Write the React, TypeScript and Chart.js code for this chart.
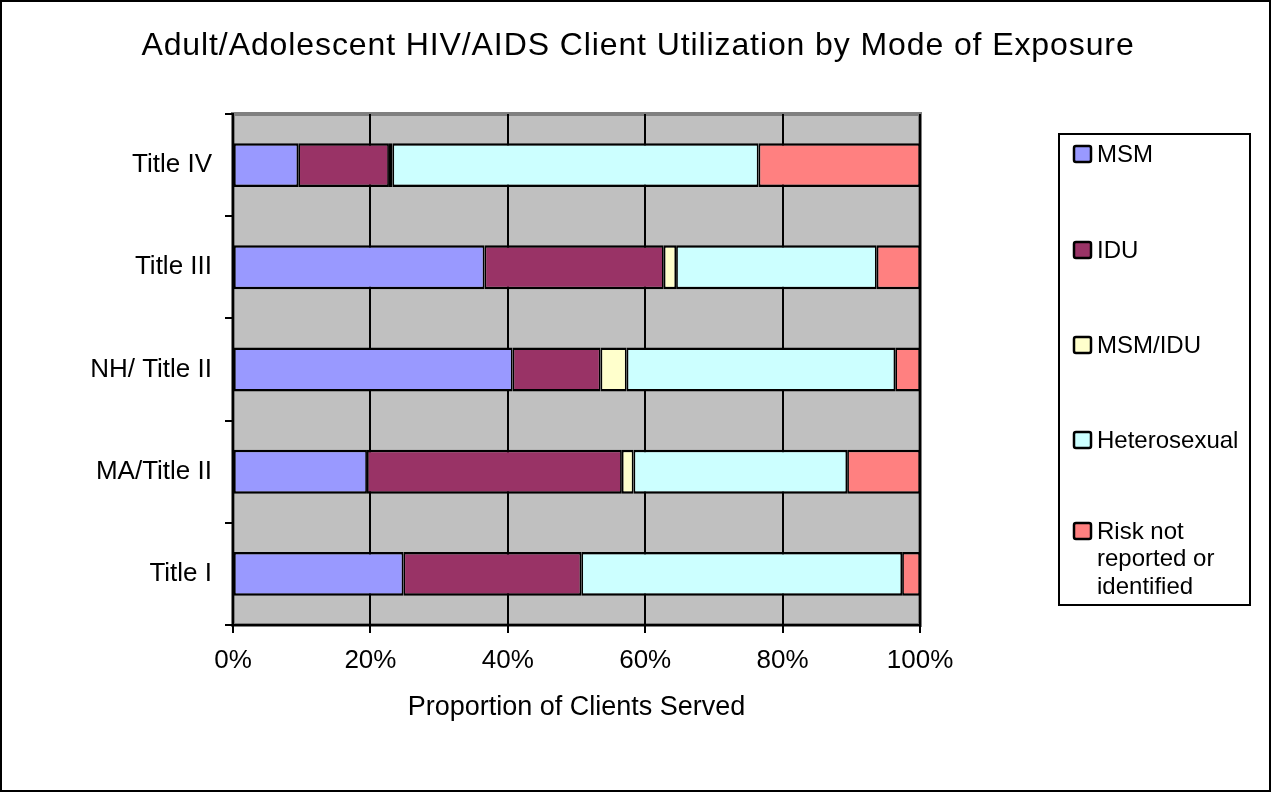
import React, { useEffect, useRef } from "react";
import { Chart, registerables } from "chart.js";

Chart.register(...registerables);

const categories = ["Title IV", "Title III", "NH/ Title II", "MA/Title II", "Title I"];
const msm = [9.5, 36.6, 40.7, 19.5, 24.8];
const idu = [13.2, 26.1, 12.8, 37.1, 25.9];
const msmIdu = [0.5, 1.8, 3.8, 1.7, 0];
const hetero = [53.3, 29.2, 39.1, 31.1, 46.7];
const risk = [23.5, 6.3, 3.6, 10.6, 2.6];
const xTicks = [0, 20, 40, 60, 80, 100];

const seriesNames = ["MSM", "IDU", "MSM/IDU", "Heterosexual", "Risk not reported or identified"];
const seriesColors = ["#9999FF", "#993366", "#FFFFCC", "#CCFFFF", "#FF8080"];
const legendLines = [["MSM"], ["IDU"], ["MSM/IDU"], ["Heterosexual"], ["Risk not", "reported or", "identified"]];

const FONT = "'Liberation Sans', Arial, sans-serif";

const decor = {
  id: "decor",
  beforeDraw(chart: any) {
    const { ctx, chartArea: a } = chart;
    ctx.save();
    ctx.fillStyle = "#ffffff";
    ctx.fillRect(0, 0, chart.width, chart.height);
    ctx.fillStyle = "#C0C0C0";
    ctx.fillRect(a.left, a.top, a.right - a.left, a.bottom - a.top);
    ctx.strokeStyle = "#808080";
    ctx.lineWidth = 4;
    ctx.strokeRect(a.left, a.top, a.right - a.left, a.bottom - a.top);
    ctx.restore();
  },
  afterDraw(chart: any) {
    const { ctx } = chart;
    ctx.save();
    // frame
    ctx.strokeStyle = "#000";
    ctx.lineWidth = 2;
    ctx.strokeRect(1, 1, chart.width - 2, chart.height - 2);
    // title
    ctx.fillStyle = "#000";
    ctx.font = `32px ${FONT}`;
    (ctx as any).letterSpacing = "0.9px";
    ctx.textAlign = "center";
    ctx.textBaseline = "middle";
    ctx.fillText("Adult/Adolescent HIV/AIDS Client Utilization by Mode of Exposure", 638, 46);
    (ctx as any).letterSpacing = "0px";
    // legend
    ctx.fillStyle = "#fff";
    ctx.fillRect(1059, 134, 191, 471);
    ctx.strokeStyle = "#000";
    ctx.lineWidth = 2;
    ctx.strokeRect(1059, 134, 191, 471);
    const ys = [154, 250, 345, 440, 531];
    ctx.font = `24px ${FONT}`;
    ctx.textAlign = "left";
    ctx.textBaseline = "middle";
    legendLines.forEach((lines, i) => {
      const y = ys[i];
      ctx.fillStyle = seriesColors[i];
      ctx.beginPath();
      (ctx as any).roundRect(1074, y - 8, 17, 16, 2);
      ctx.fill();
      ctx.strokeStyle = "#000";
      ctx.lineWidth = 2.5;
      ctx.stroke();
      ctx.fillStyle = "#000";
      lines.forEach((t, j) => ctx.fillText(t, 1097, y + 1 + j * 27.5));
    });
    ctx.restore();
  },
};

export default function App() {
  const ref = useRef<HTMLCanvasElement>(null);
  useEffect(() => {
    document.body.style.margin = "0";
    const values = [msm, idu, msmIdu, hetero, risk];
    const chart = new Chart(ref.current!, {
      type: "bar",
      data: {
        labels: categories,
        datasets: seriesNames.map((name, i) => ({
          label: name,
          data: values[i],
          backgroundColor: seriesColors[i],
          borderColor: "#000",
          borderWidth: { top: 2.5, bottom: 2.5, left: 1.75, right: 1.75 },
          borderSkipped: false,
          barPercentage: 0.43,
          categoryPercentage: 1,
        })),
      },
      options: {
        indexAxis: "y",
        responsive: false,
        animation: false,
        layout: { padding: { left: 0, top: 114, right: 351, bottom: 64 } },
        plugins: { legend: { display: false }, tooltip: { enabled: false }, title: { display: false } },
        scales: {
          x: {
            type: "linear",
            stacked: true,
            min: 0,
            max: 100,
            afterFit: (s: any) => { s.height = 103; },
            afterBuildTicks: (s: any) => { s.ticks = xTicks.map((v) => ({ value: v })); },
            ticks: {
              callback: (v: any) => v + "%",
              color: "#000",
              font: { family: FONT, size: 26 },
              padding: 12,
              maxRotation: 0,
              autoSkip: false,
            },
            grid: { color: "#000", lineWidth: 2, tickLength: 8, drawOnChartArea: true },
            border: { color: "#000", width: 2 },
            title: {
              display: true,
              text: "Proportion of Clients Served",
              color: "#000",
              font: { family: FONT, size: 27 },
            },
          },
          y: {
            type: "category",
            stacked: true,
            afterFit: (s: any) => { s.width = 233; },
            ticks: { color: "#000", font: { family: FONT, size: 26 }, padding: 13 },
            grid: { color: "#000", lineWidth: 2, tickLength: 8, drawOnChartArea: false, offset: true },
            border: { color: "#000", width: 2 },
          },
        },
      },
      plugins: [decor],
    } as any);
    return () => chart.destroy();
  }, []);
  return (
    <div style={{ width: 1271, height: 792 }}>
      <canvas ref={ref} width={1271} height={792} />
    </div>
  );
}
